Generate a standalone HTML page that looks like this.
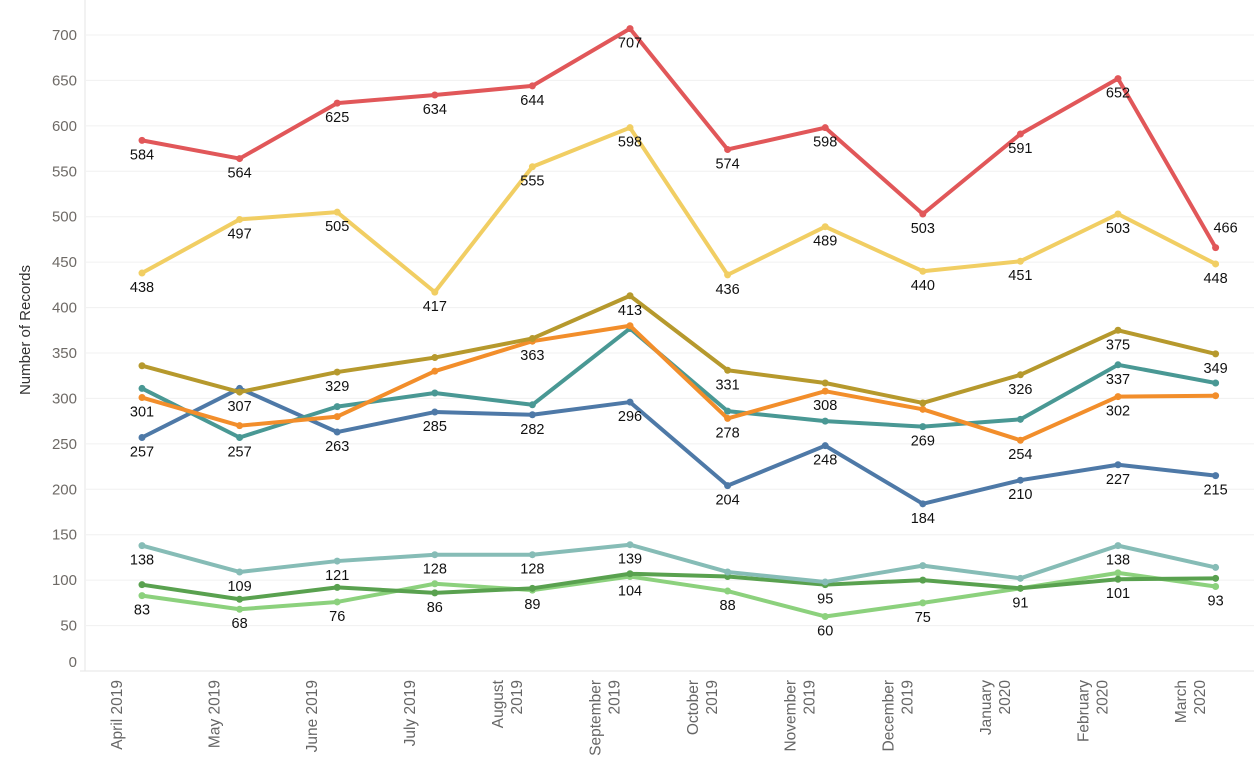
<!DOCTYPE html>
<html><head><meta charset="utf-8"><style>
body{margin:0;background:#fff;font-family:"Liberation Sans",sans-serif}
</style></head><body>
<svg id="chart" width="1254" height="769" xmlns="http://www.w3.org/2000/svg" font-family="Liberation Sans, sans-serif"></svg>
<script>
const months=["April 2019","May 2019","June 2019","July 2019","August|2019","September|2019","October|2019","November|2019","December|2019","January|2020","February|2020","March|2020"];
const yTicks=[0,50,100,150,200,250,300,350,400,450,500,550,600,650,700];
const red=[584,564,625,634,644,707,574,598,503,591,652,466];
const yellow=[438,497,505,417,555,598,436,489,440,451,503,448];
const olive=[336,307,329,345,366,413,331,317,295,326,375,349];
const orange=[301,270,280,330,363,380,278,308,288,254,302,303];
const teal=[311,257,291,306,293,377,286,275,269,277,337,317];
const blue=[257,311,263,285,282,296,204,248,184,210,227,215];
const ltteal=[138,109,121,128,128,139,109,98,116,102,138,114];
const dkgreen=[95,79,92,86,91,107,104,95,100,91,101,102];
const ltgreen=[83,68,76,96,89,104,88,60,75,91,108,93];
const redL=[1,1,1,1,1,1,1,1,1,1,1,1];
const yellowL=[1,1,1,1,1,1,1,1,1,1,1,1];
const oliveL=[0,1,1,0,0,1,1,0,0,1,1,1];
const orangeL=[1,0,0,0,1,0,1,1,0,1,1,0];
const tealL=[0,1,0,0,0,0,0,0,1,0,1,0];
const blueL=[1,0,1,1,1,1,1,1,1,1,1,1];
const ltealL=[1,1,1,1,1,1,0,0,0,0,1,0];
const dkgreenL=[0,0,0,1,0,0,0,1,0,0,1,0];
const ltgreenL=[1,1,1,0,1,1,1,1,1,1,0,1];
const svg=document.getElementById('chart');const NS="http://www.w3.org/2000/svg";
const x0=142,dx=97.6;const X=i=>x0+i*dx;const Y=v=>671-v*(636/700);
function mk(t,a,p){const e=document.createElementNS(NS,t);for(const k in a)e.setAttribute(k,a[k]);(p||svg).appendChild(e);return e;}
yTicks.forEach(t=>{
 const g=mk('line',{x1:86,x2:1254,y1:Y(t),y2:Y(t),stroke:'#f0f0f0','stroke-width':1});
 
 
 const l=mk('text',{x:77,y:Y(t)+(t==0?-4:5),'text-anchor':'end','font-size':15,fill:'#6e6a66'});l.textContent=t;
 
 
});
const ax=mk('line',{x1:85,x2:85,y1:0,y2:671,stroke:'#e6e6e6'});
const bx=mk('line',{x1:80,x2:1254,y1:671,y2:671,stroke:'#e6e6e6'});
const yt=mk('text',{x:30,y:330,transform:'rotate(-90 30 330)','text-anchor':'middle','font-size':15,fill:'#333'});yt.textContent='Number of Records';

months.forEach((m,i)=>{
 const parts=m.split('|');const cx=X(i)-25;
 parts.forEach((p,j)=>{
  const xx=cx+(j-(parts.length-1)/2)*19+5;
  const t=mk('text',{x:xx,y:680,transform:`rotate(-90 ${xx} 680)`,'text-anchor':'end','font-size':15.5,fill:'#666'});t.textContent=p;
  
  
 });
});
const series=[[ltgreen,'#8cd17d',ltgreenL,'light-green'],[dkgreen,'#59a14f',dkgreenL,'dark-green'],[ltteal,'#86bcb6',ltealL,'light-teal'],[blue,'#4e79a7',blueL,'blue'],[teal,'#499894',tealL,'teal'],[orange,'#f28e2b',orangeL,'orange'],[olive,'#b6992d',oliveL,'olive'],[yellow,'#f1ce63',yellowL,'yellow'],[red,'#e15759',redL,'red']];
series.forEach(([d,c,lab,n])=>{
 const p=mk('polyline',{points:d.map((v,i)=>X(i)+','+Y(v)).join(' '),fill:'none',stroke:c,'stroke-width':4,'stroke-linejoin':'round'});
 
 
 d.forEach((v,i)=>{
  const dot=mk('circle',{cx:X(i),cy:Y(v),r:3.5,fill:c});
  
  
 });
});
series.forEach(([d,c,lab,n])=>{
 d.forEach((v,i)=>{ if(!lab[i])return;
  let yy=Y(v)+19,xx=X(i);
  if(n=='red'&&i==11){yy=Y(v)-15;xx+=10;}
  const t=mk('text',{x:xx,y:yy,'text-anchor':'middle','font-size':14.5,fill:'#111'});t.textContent=v;
  
  
 });
});
</script>
</body></html>
